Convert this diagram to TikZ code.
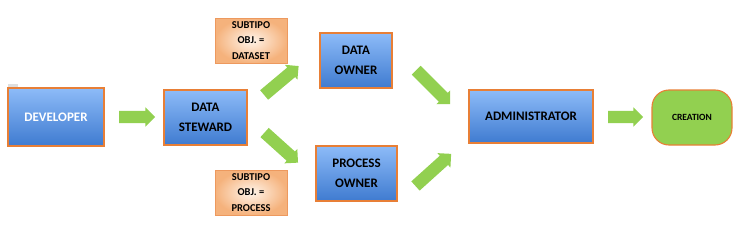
\documentclass[tikz,border=0pt]{standalone}
\usepackage{fontspec}
\setmainfont{Carlito}
\usetikzlibrary{shapes.arrows,shapes.misc}
\definecolor{bluetop}{HTML}{8DBBF8}
\definecolor{bluebot}{HTML}{3F7BD0}
\definecolor{orbord}{HTML}{E87F36}
\definecolor{orfill}{HTML}{F5B27C}
\definecolor{grn}{HTML}{92D050}
\tikzset{
  bluebox/.style={draw=orbord, line width=1.1pt, top color=bluetop, bottom color=bluebot,
     align=center, font=\fontsize{13}{20}\selectfont\bfseries, inner sep=0pt},
  subbox/.style={draw=orbord!80, line width=0.8pt, inner color=orange!8, outer color=orfill,
     align=center, font=\fontsize{10.5}{15.5}\selectfont\bfseries, inner sep=0pt,
     minimum width=72pt, minimum height=45pt},
  garrow/.style={single arrow, fill=grn, draw=none, inner xsep=0pt, inner ysep=6pt,
     single arrow head extend=3.5pt, single arrow tip angle=90, minimum width=19pt}
}
\begin{document}
\begin{tikzpicture}[x=1pt,y=-1pt]
\useasboundingbox (0,0) rectangle (741,233);
\fill[gray!25] (8,83.5) rectangle (18,88);
\node[bluebox, text=white, minimum width=96pt, minimum height=58pt] (dev) at (56,117) {DEVELOPER};
\node[bluebox, minimum width=83pt, minimum height=55pt] (ds) at (205.5,117.5) {DATA\\STEWARD};
\node[subbox] (sd) at (251,40.5) {SUBTIPO\\OBJ. =\\DATASET};
\node[subbox] (sp) at (251,192.5) {SUBTIPO\\OBJ. =\\PROCESS};
\node[bluebox, minimum width=72pt, minimum height=55pt] (do) at (356,60.5) {DATA\\OWNER};
\node[bluebox, minimum width=81pt, minimum height=55pt] (po) at (356.5,173.5) {PROCESS\\OWNER};
\node[bluebox, minimum width=124pt, minimum height=53pt] (adm) at (531,116.5) {ADMINISTRATOR};
\node[draw=orbord, line width=1.1pt, fill=grn, rounded corners=17pt, minimum width=80pt, minimum height=55pt,
  font=\fontsize{9.5}{11}\selectfont\bfseries, inner sep=0pt] (cr) at (692,117.5) {CREATION};
\node[garrow, minimum height=36pt] (a1) at (134,117) {};
\node[garrow, minimum height=45pt, rotate=40] (a2) at (279,82.5) {};
\node[garrow, minimum height=45pt, rotate=-42] (a3) at (279,145.5) {};
\node[garrow, minimum height=48pt, rotate=-45] (a4) at (431,85) {};
\node[garrow, minimum height=48pt, rotate=42] (a5) at (431,172) {};
\node[garrow, minimum height=35pt] (a6) at (622.5,117) {};
\end{tikzpicture}
\end{document}
